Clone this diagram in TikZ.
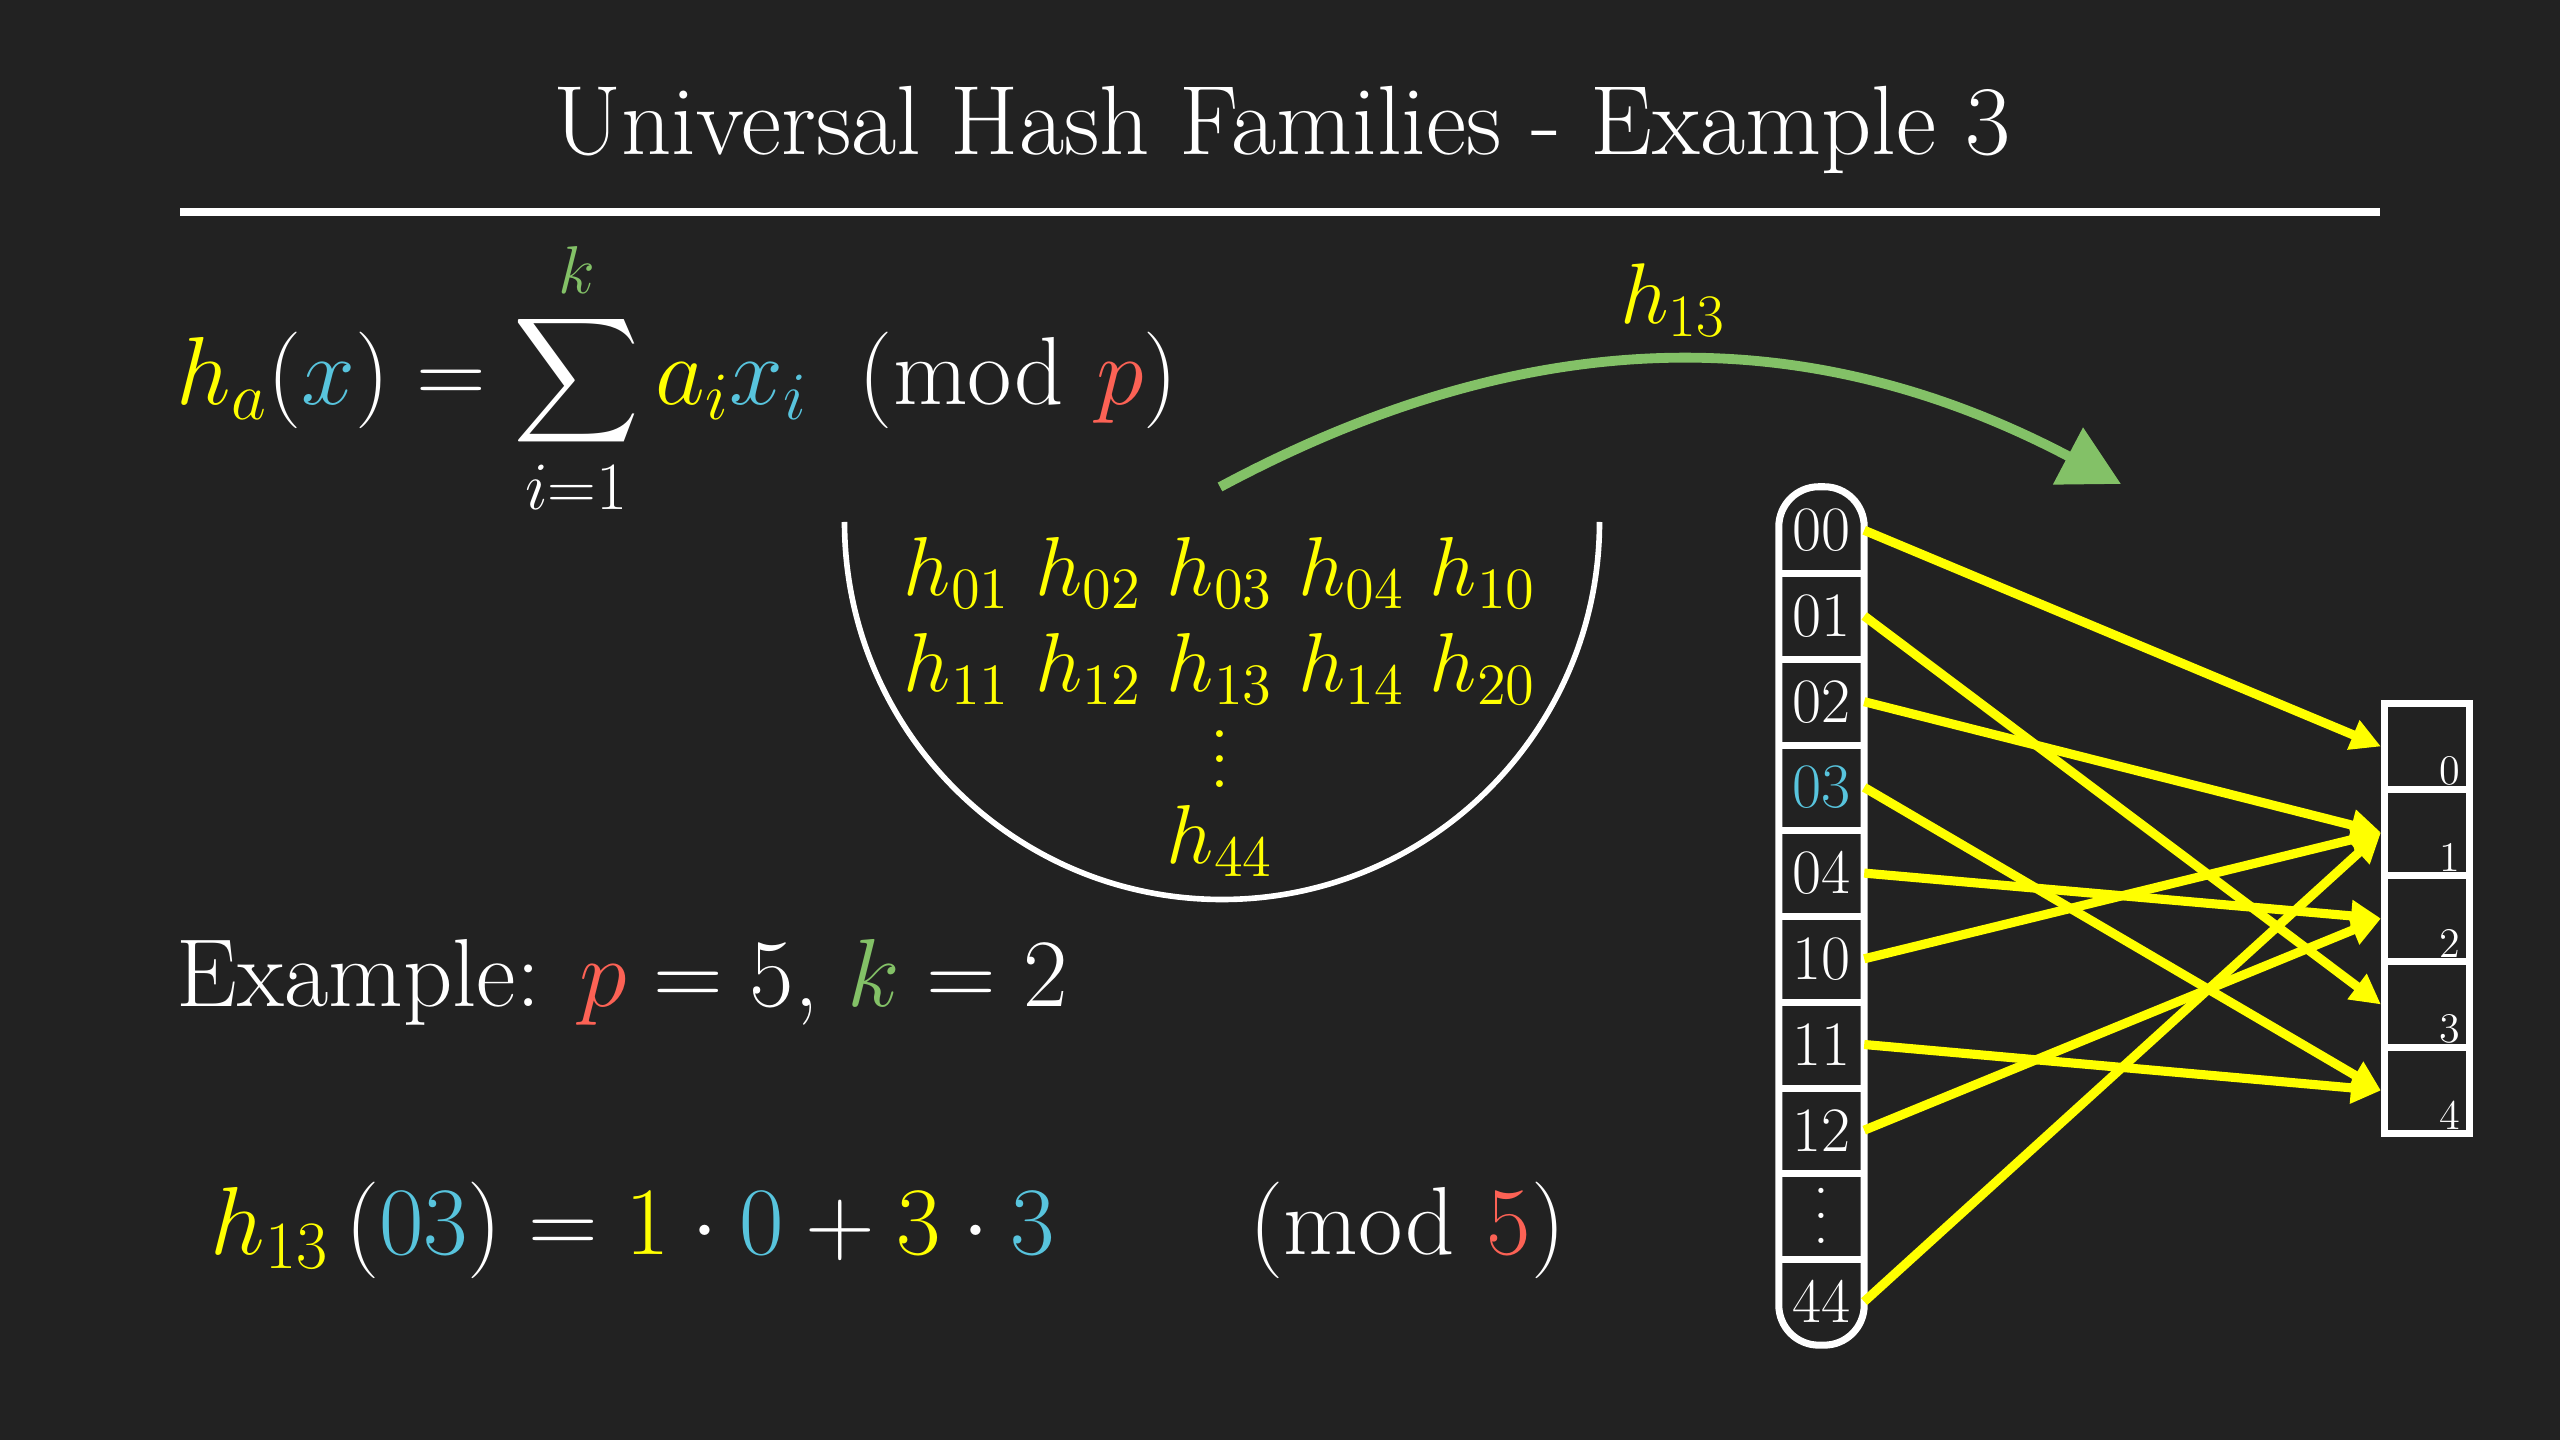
\documentclass[tikz,border=0pt]{standalone}
\usepackage{fix-cm}
\usepackage{amsmath}
\usepackage{tikz}
\usetikzlibrary{arrows.meta}
\definecolor{bgc}{RGB}{34,34,34}
\definecolor{myellow}{RGB}{255,255,0}
\definecolor{mblue}{HTML}{58C4DD}
\definecolor{mred}{HTML}{FC6255}
\definecolor{mgreen}{HTML}{83C167}
\newcommand{\dotcol}[1]{\vbox{\baselineskip=#1\lineskiplimit=0pt\hbox{.}\hbox{.}\hbox{.}}}
\tikzset{
  big/.style={white, font=\fontsize{27.5}{33}\selectfont, inner sep=0pt},
  fam/.style={myellow, font=\fontsize{23.8}{28}\selectfont, inner sep=0pt},
  lbl/.style={myellow, font=\fontsize{24.5}{29}\selectfont, inner sep=0pt},
  key/.style={white, font=\fontsize{18}{21}\selectfont, minimum width=0.84cm, minimum height=0.857cm, inner sep=0pt},
  slot/.style={draw=white, line width=2pt, minimum width=0.85cm, minimum height=0.86cm, inner sep=0pt},
  slotnum/.style={white, font=\fontsize{12}{14}\selectfont, inner sep=0pt, anchor=south east, xshift=-0.12cm, yshift=0.07cm},
  map/.style={myellow, line width=2.6pt, -{Triangle[length=0.3cm, width=0.3cm]}}
}

\begin{document}
\begin{tikzpicture}
		\fill[bgc] (0,0) rectangle (25.6,14.4) ; % Background 
\useasboundingbox (0,0) rectangle (25.6,14.4) ; 
\node[big, font=\fontsize{28}{33}\selectfont, anchor=base] (title) at (12.82,12.85) {Universal Hash Families - Example 3}; % Title 
\draw[white, line width=2pt] (1.80,12.28) -- (23.80,12.28) ; % TitleRule 
\node[big, anchor=base west] (hashdef) at (1.76,10.35) {${\color{myellow}h_a}({\color{mblue}x}) = \displaystyle\sum_{i=1}^{\textcolor{mgreen}{k}} {\color{myellow}a_i}{\color{mblue}x_i} \mkern9.5mu(\mathrm{mod}\,\,{\color{mred}p})$}; % HashDef 
\draw[white, line width=1.6pt] (8.445,9.18) arc (180:360:3.775) ; % Bowl 
\node[fam, anchor=base] (famrow1) at (12.2,8.44) {$h_{01}\ h_{02}\ h_{03}\ h_{04}\ h_{10}$}; % Bowl.row1 
\node[fam, anchor=base] (famrow2) at (12.2,7.48) {$h_{11}\ h_{12}\ h_{13}\ h_{14}\ h_{20}$}; % Bowl.row2 
\node[fam, anchor=base] (famdots) at (12.2,6.52) {\dotcol{0.3em}}; % Bowl.dots 
\node[fam, anchor=base] (famlast) at (12.2,5.76) {$h_{44}$}; % Bowl.last 
\coordinate (bowltop) at (12.20,9.53) ; 
\coordinate (arrowend) at (21.21,9.56) ; 
\draw[mgreen, line width=2.8pt, -{Triangle[length=0.6cm, width=0.62cm]}] (bowltop) to[bend left=28] (arrowend) ; % Pick 
\node[lbl, anchor=base] (hlabel) at (16.73,11.16) {$h_{13}$}; % Pick.label 
\node[big, anchor=base west] (example) at (1.76,4.33) {Example: ${\color{mred}p} = 5$, ${\color{mgreen}k} = 2$}; % Example 
\node[big, anchor=base west] (evalrow) at (2.10,1.86) {${\color{myellow}h_{13}}\,({\color{mblue}03}) = {\color{myellow}1}\cdot{\color{mblue}0} + {\color{myellow}3}\cdot{\color{mblue}3}$}; % Eval 
\node[big, anchor=base east] (evalmod) at (15.66,1.86) {$(\mathrm{mod}\,\,{\color{mred}5})$}; % Eval.mod 
\node[key] (k00) at (18.215,9.097) {00}; % Key.0 
\node[key] (k01) at (18.215,8.240) {01}; % Key.1 
\node[key] (k02) at (18.215,7.383) {02}; % Key.2 
\node[key] (k03) at (18.215,6.526) {\color{mblue}03}; % Key.3 
\node[key] (k04) at (18.215,5.669) {04}; % Key.4 
\node[key] (k10) at (18.215,4.812) {10}; % Key.5 
\node[key] (k11) at (18.215,3.955) {11}; % Key.6 
\node[key] (k12) at (18.215,3.098) {12}; % Key.7 
\node[key] (kdots) at (18.215,2.241) {\dotcol{0.4em}}; % Key.8 
\node[key] (k44) at (18.215,1.384) {44}; % Key.9 
\draw[white, line width=2pt, rounded corners=0.4cm] (k00.north west) rectangle (k44.south east) ; % Keys 
\draw[white, line width=2pt] (k00.south west) -- (k00.south east) ; 
\draw[white, line width=2pt] (k01.south west) -- (k01.south east) ; 
\draw[white, line width=2pt] (k02.south west) -- (k02.south east) ; 
\draw[white, line width=2pt] (k03.south west) -- (k03.south east) ; 
\draw[white, line width=2pt] (k04.south west) -- (k04.south east) ; 
\draw[white, line width=2pt] (k10.south west) -- (k10.south east) ; 
\draw[white, line width=2pt] (k11.south west) -- (k11.south east) ; 
\draw[white, line width=2pt] (k12.south west) -- (k12.south east) ; 
\draw[white, line width=2pt] (kdots.south west) -- (kdots.south east) ; 
\node[slot, label={[slotnum]south east:0}] (s0) at (24.27,6.935) {}; % Slot.0 
\node[slot, label={[slotnum]south east:1}] (s1) at (24.27,6.075) {}; % Slot.1 
\node[slot, label={[slotnum]south east:2}] (s2) at (24.27,5.215) {}; % Slot.2 
\node[slot, label={[slotnum]south east:3}] (s3) at (24.27,4.355) {}; % Slot.3 
\node[slot, label={[slotnum]south east:4}] (s4) at (24.27,3.495) {}; % Slot.4 
\draw[map] (k00.east) -- (s0.west) ; % 00 -> 0 
\draw[map] (k01.east) -- (s3.west) ; % 01 -> 3 
\draw[map] (k02.east) -- (s1.west) ; % 02 -> 1 
\draw[map] (k03.east) -- (s4.west) ; % 03 -> 4 
\draw[map] (k04.east) -- (s2.west) ; % 04 -> 2 
\draw[map] (k10.east) -- (s1.west) ; % 10 -> 1 
\draw[map] (k11.east) -- (s4.west) ; % 11 -> 4 
\draw[map] (k12.east) -- (s2.west) ; % 12 -> 2 
\draw[map] (k44.east) -- (s1.west) ; % 44 -> 1 

		\end{tikzpicture}
\end{document}
